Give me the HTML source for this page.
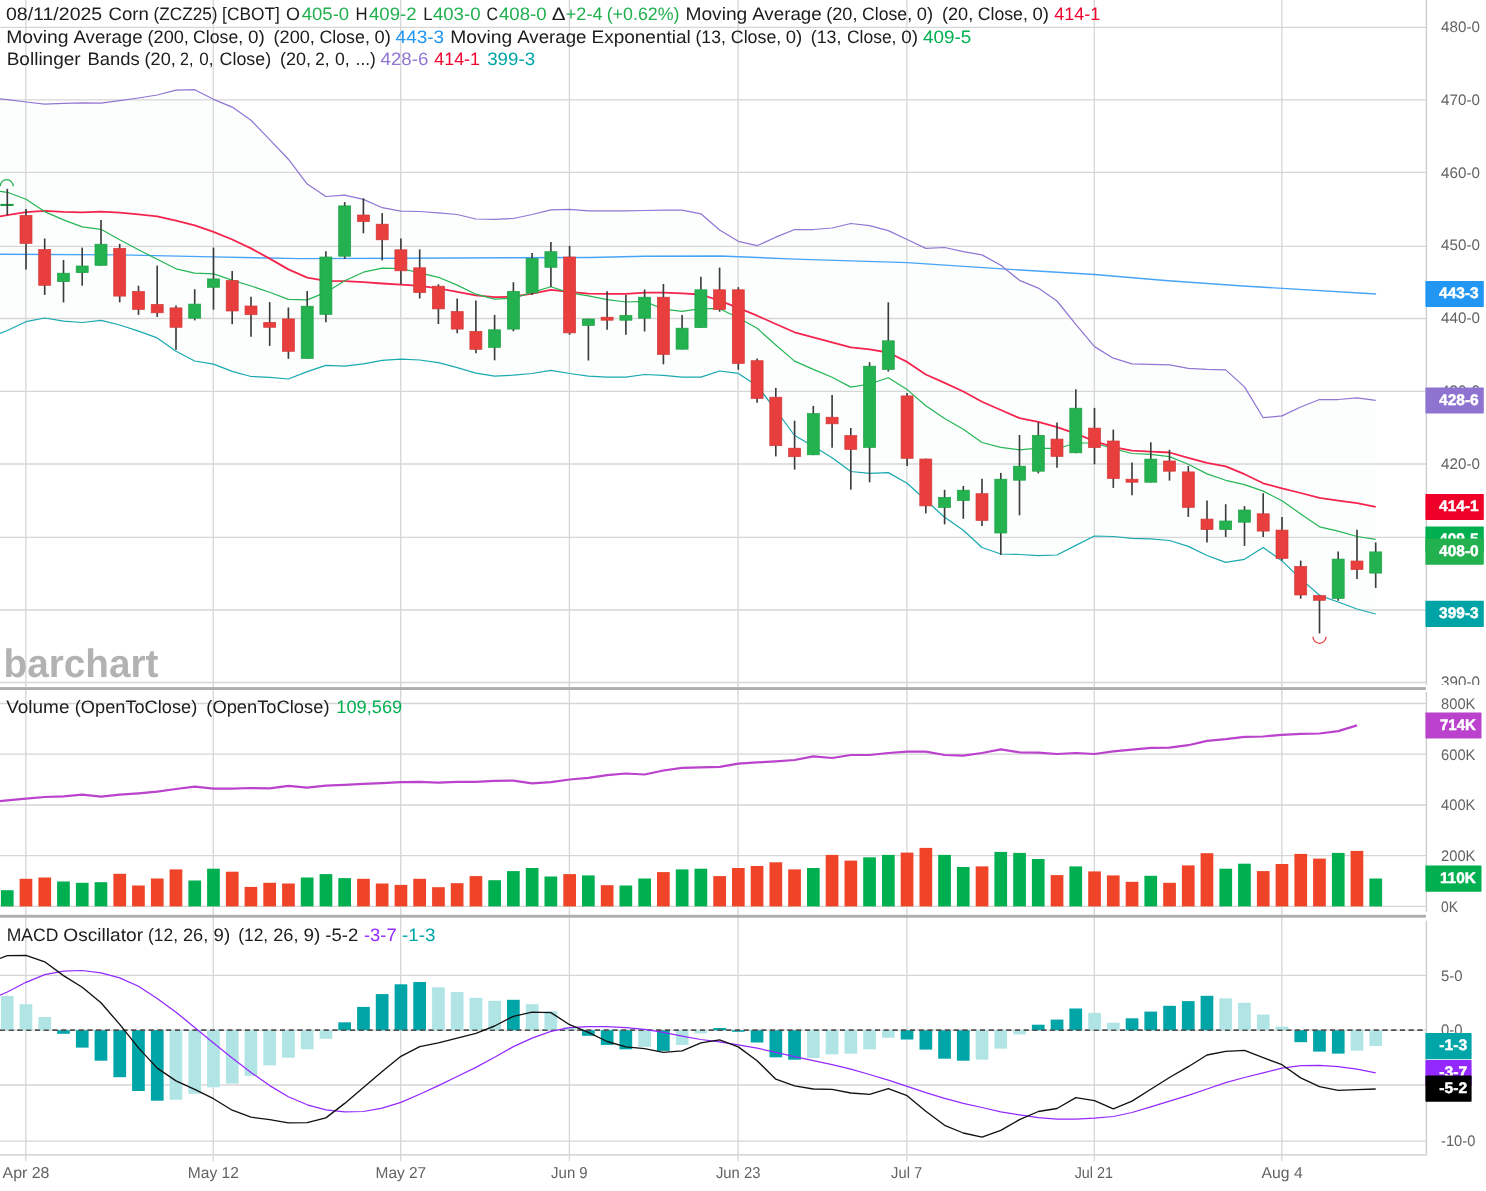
<!DOCTYPE html>
<html lang="en"><head><meta charset="utf-8"><title>Corn (ZCZ25) chart</title>
<style>html,body{margin:0;padding:0;background:#fff;overflow:hidden}svg{display:block;will-change:transform}</style>
</head><body>
<svg width="1486" height="1191" viewBox="0 0 1486 1191" role="img" aria-label="Corn ZCZ25 daily candlestick chart">
<rect width="1486" height="1191" fill="#fff"/>
<polygon points="0,98.8 7.3,99.6 26,102 44.7,104.2 63.5,103.4 82.2,102.8 101,103.1 119.7,100.7 138.5,98 157.2,95 176,90.2 194.7,89.7 213.5,99.3 232.2,107.1 251,120.3 269.7,139.6 288.4,159.2 307.2,184.1 325.9,196.5 344.7,195.1 363.4,199.4 382.2,207.7 400.9,211.2 419.7,211.5 438.4,212.9 457.2,214.5 475.9,219 494.6,219.3 513.4,218.5 532.1,214.5 550.9,209.9 569.6,209.4 588.4,210.8 607.1,210.8 625.9,210.8 644.6,210.5 663.4,210.2 682.1,210.2 700.9,213.8 719.6,230 738.3,241.3 757.1,245.7 775.8,237.2 794.6,229.5 813.3,229.5 832.1,228 850.8,223.5 869.6,225.6 888.3,230.6 907.1,239.5 925.8,248.4 944.6,247.5 963.3,251.7 982,254.9 1000.8,265.3 1019.5,280.3 1038.3,288.1 1057,301 1075.8,324.3 1094.5,346.6 1113.3,358.2 1132,363.8 1150.8,364.3 1169.5,364.8 1188.3,368.3 1207,369.4 1225.7,369.9 1244.5,386.9 1263.2,417.7 1282,415.9 1300.7,407 1319.5,399.5 1338.2,399.5 1357,397.9 1375.7,400.4 1375.7,614 1357,609 1338.2,602 1319.5,595.3 1300.7,578.9 1282,560.9 1263.2,547.5 1244.5,559.3 1225.7,562.3 1207,555.5 1188.3,546.4 1169.5,540.5 1150.8,538.9 1132,538.4 1113.3,536.5 1094.5,536 1075.8,545.4 1057,555 1038.3,555.6 1019.5,554.5 1000.8,554 982,547.5 963.3,530.3 944.6,517.2 925.8,500.3 907.1,483.3 888.3,472.6 869.6,473.4 850.8,471.5 832.1,457.8 813.3,446.2 794.6,435.5 775.8,410 757.1,385.8 738.3,373.4 719.6,371 700.9,377.2 682.1,377.2 663.4,375.3 644.6,374.5 625.9,377.2 607.1,377.2 588.4,376.1 569.6,373.5 550.9,370.3 532.1,373.5 513.4,375.1 494.6,376.2 475.9,373.2 457.2,367.6 438.4,362.7 419.7,360 400.9,359.2 382.2,360.3 363.4,363.8 344.7,366.2 325.9,365.4 307.2,371.6 288.4,379 269.7,377.3 251,376.5 232.2,371.4 213.5,364.2 194.7,361 176,351.3 157.2,337.9 138.5,331.1 119.7,325 101,320.4 82.2,322.5 63.5,321.2 44.7,318 26,321.7 7.3,330.5 0,333.3" fill="#fcfefd"/>
<g stroke="#d6d6d6" stroke-width="1.3" fill="none">
<path d="M0 27.4 H1426.4"/>
<path d="M0 99.9 H1426.4"/>
<path d="M0 172.4 H1426.4"/>
<path d="M0 246.3 H1426.4"/>
<path d="M0 318.5 H1426.4"/>
<path d="M0 391.4 H1426.4"/>
<path d="M0 464 H1426.4"/>
<path d="M0 537.4 H1426.4"/>
<path d="M0 610 H1426.4"/>
<path d="M0 682.5 H1426.4"/>
<path d="M0 703.5 H1426.4"/>
<path d="M0 754.2 H1426.4"/>
<path d="M0 805 H1426.4"/>
<path d="M0 855.7 H1426.4"/>
<path d="M0 906.4 H1426.4"/>
<path d="M0 975.3 H1426.4"/>
<path d="M0 1030.2 H1426.4"/>
<path d="M0 1085 H1426.4"/>
<path d="M0 1141.2 H1426.4"/>
<path d="M25.8 0 V1154.6"/>
<path d="M213.3 0 V1154.6"/>
<path d="M400.7 0 V1154.6"/>
<path d="M569.4 0 V1154.6"/>
<path d="M738.1 0 V1154.6"/>
<path d="M906.9 0 V1154.6"/>
<path d="M1094.3 0 V1154.6"/>
<path d="M1281.8 0 V1154.6"/>
</g>
<path d="M0 1030.2 H1426.4" stroke="#505050" stroke-width="1.4" stroke-dasharray="5 3.75" fill="none"/>
<polyline points="0,254.2 120,254.9 213,256.9 300,258.6 400,258.2 590,257.4 645,256.3 720,256 795,259.1 907,262.6 1010,269.4 1094.5,274.5 1165,280.5 1243,286 1376.1,294" fill="none" stroke="#48a4f6" stroke-width="1.45" stroke-linejoin="round" />
<polyline points="0,98.8 7.3,99.6 26,102 44.7,104.2 63.5,103.4 82.2,102.8 101,103.1 119.7,100.7 138.5,98 157.2,95 176,90.2 194.7,89.7 213.5,99.3 232.2,107.1 251,120.3 269.7,139.6 288.4,159.2 307.2,184.1 325.9,196.5 344.7,195.1 363.4,199.4 382.2,207.7 400.9,211.2 419.7,211.5 438.4,212.9 457.2,214.5 475.9,219 494.6,219.3 513.4,218.5 532.1,214.5 550.9,209.9 569.6,209.4 588.4,210.8 607.1,210.8 625.9,210.8 644.6,210.5 663.4,210.2 682.1,210.2 700.9,213.8 719.6,230 738.3,241.3 757.1,245.7 775.8,237.2 794.6,229.5 813.3,229.5 832.1,228 850.8,223.5 869.6,225.6 888.3,230.6 907.1,239.5 925.8,248.4 944.6,247.5 963.3,251.7 982,254.9 1000.8,265.3 1019.5,280.3 1038.3,288.1 1057,301 1075.8,324.3 1094.5,346.6 1113.3,358.2 1132,363.8 1150.8,364.3 1169.5,364.8 1188.3,368.3 1207,369.4 1225.7,369.9 1244.5,386.9 1263.2,417.7 1282,415.9 1300.7,407 1319.5,399.5 1338.2,399.5 1357,397.9 1375.7,400.4" fill="none" stroke="#9176d3" stroke-width="1.25" stroke-linejoin="round" />
<polyline points="0,333.3 7.3,330.5 26,321.7 44.7,318 63.5,321.2 82.2,322.5 101,320.4 119.7,325 138.5,331.1 157.2,337.9 176,351.3 194.7,361 213.5,364.2 232.2,371.4 251,376.5 269.7,377.3 288.4,379 307.2,371.6 325.9,365.4 344.7,366.2 363.4,363.8 382.2,360.3 400.9,359.2 419.7,360 438.4,362.7 457.2,367.6 475.9,373.2 494.6,376.2 513.4,375.1 532.1,373.5 550.9,370.3 569.6,373.5 588.4,376.1 607.1,377.2 625.9,377.2 644.6,374.5 663.4,375.3 682.1,377.2 700.9,377.2 719.6,371 738.3,373.4 757.1,385.8 775.8,410 794.6,435.5 813.3,446.2 832.1,457.8 850.8,471.5 869.6,473.4 888.3,472.6 907.1,483.3 925.8,500.3 944.6,517.2 963.3,530.3 982,547.5 1000.8,554 1019.5,554.5 1038.3,555.6 1057,555 1075.8,545.4 1094.5,536 1113.3,536.5 1132,538.4 1150.8,538.9 1169.5,540.5 1188.3,546.4 1207,555.5 1225.7,562.3 1244.5,559.3 1263.2,547.5 1282,560.9 1300.7,578.9 1319.5,595.3 1338.2,602 1357,609 1375.7,614" fill="none" stroke="#1aa9b0" stroke-width="1.25" stroke-linejoin="round" />
<polyline points="0,216.4 7.3,215.2 26,212.2 44.7,210.8 63.5,211.9 82.2,212.4 101,211.6 119.7,212.7 138.5,214.3 157.2,216.4 176,220.7 194.7,225.3 213.5,231.8 232.2,239.5 251,248.4 269.7,258.6 288.4,269.4 307.2,277.6 325.9,280.8 344.7,281.1 363.4,282.2 382.2,283.5 400.9,284.6 419.7,285.9 438.4,288.3 457.2,291.8 475.9,295.3 494.6,297.2 513.4,296.7 532.1,293.7 550.9,289.9 569.6,291.8 588.4,293.7 607.1,293.9 625.9,293.9 644.6,292.6 663.4,292.6 682.1,293.4 700.9,294.5 719.6,300.6 738.3,307.9 757.1,315.7 775.8,324 794.6,332.3 813.3,337.4 832.1,342.3 850.8,347.4 869.6,349.3 888.3,352.5 907.1,361.9 925.8,374.5 944.6,382.9 963.3,391.5 982,401.7 1000.8,410 1019.5,418.1 1038.3,421.8 1057,427.2 1075.8,433.6 1094.5,441.2 1113.3,447.1 1132,450.6 1150.8,451.6 1169.5,452.5 1188.3,457.8 1207,462.9 1225.7,466.4 1244.5,474.2 1263.2,483.3 1282,488.4 1300.7,493 1319.5,497.8 1338.2,500.7 1357,503.2 1375.7,506.9" fill="none" stroke="#f4244c" stroke-width="1.8" stroke-linejoin="round" />
<polyline points="0,191.4 7.3,192.3 26,199.3 44.7,211.6 63.5,219.9 82.2,226.9 101,229.3 119.7,239.8 138.5,249.8 157.2,259.2 176,268.8 194.7,273.1 213.5,273.9 232.2,280.1 251,286 269.7,292.2 288.4,299.4 307.2,299.9 325.9,292.4 344.7,280.8 363.4,272.2 382.2,268.2 400.9,268.5 419.7,272.8 438.4,277.3 457.2,285.1 475.9,294.2 494.6,299.1 513.4,298.3 532.1,292.4 550.9,286.7 569.6,292.9 588.4,295.8 607.1,299.6 625.9,302 644.6,301.4 663.4,309.2 682.1,311.4 700.9,308.7 719.6,308.7 738.3,317.8 757.1,328.3 775.8,345 794.6,361.1 813.3,369.4 832.1,377.2 850.8,387.1 869.6,384 888.3,377.8 907.1,389.6 925.8,405.7 944.6,418.6 963.3,429.3 982,442.5 1000.8,447.3 1019.5,449.8 1038.3,448.1 1057,448.7 1075.8,443 1094.5,443 1113.3,448.7 1132,453.5 1150.8,454.4 1169.5,456.6 1188.3,464.2 1207,473.9 1225.7,480.3 1244.5,484.6 1263.2,491.1 1282,500.7 1300.7,513.9 1319.5,526.8 1338.2,531.1 1357,536.5 1375.7,539.3" fill="none" stroke="#25b555" stroke-width="1.2" stroke-linejoin="round" />
<rect x="0.4" y="203.9" width="13.2" height="2.1" fill="#1a9a42"/>
<g stroke="#3c3c3c" stroke-width="1.65">
<path d="M7.3 188.8 V215.1"/>
<path d="M26 208.9 V269.6"/>
<path d="M44.7 238.5 V294.9"/>
<path d="M63.5 260 V302.4"/>
<path d="M82.2 247.6 V285.7"/>
<path d="M101 219.9 V265.6"/>
<path d="M119.7 243.8 V302.4"/>
<path d="M138.5 285.7 V314.8"/>
<path d="M157.2 265.6 V316.9"/>
<path d="M176 305.6 V349.7"/>
<path d="M194.7 289.2 V320.4"/>
<path d="M213.5 247.6 V309.7"/>
<path d="M232.2 271 V324.2"/>
<path d="M251 296.8 V336.8"/>
<path d="M269.7 302.1 V345.9"/>
<path d="M288.4 307.5 V358.8"/>
<path d="M307.2 291 V358.7"/>
<path d="M325.9 251.3 V322.2"/>
<path d="M344.7 202.1 V258.8"/>
<path d="M363.4 198.3 V233.3"/>
<path d="M382.2 213.1 V260.4"/>
<path d="M400.9 238.4 V284.3"/>
<path d="M419.7 249.4 V298.5"/>
<path d="M438.4 284.3 V324"/>
<path d="M457.2 298.5 V333.2"/>
<path d="M475.9 300.4 V353.3"/>
<path d="M494.6 314.9 V360.3"/>
<path d="M513.4 282.2 V331.3"/>
<path d="M532.1 252.9 V295"/>
<path d="M550.9 242.1 V287"/>
<path d="M569.6 245.9 V334.8"/>
<path d="M588.4 318.6 V360.5"/>
<path d="M607.1 291.2 V329.7"/>
<path d="M625.9 295 V334.8"/>
<path d="M644.6 289.4 V331.5"/>
<path d="M663.4 284 V364.3"/>
<path d="M682.1 315.1 V349.5"/>
<path d="M700.9 276.7 V327.8"/>
<path d="M719.6 267.6 V311.7"/>
<path d="M738.3 287.2 V369.7"/>
<path d="M757.1 358.4 V402.7"/>
<path d="M775.8 387.9 V456.4"/>
<path d="M794.6 420.7 V469.6"/>
<path d="M813.3 405.9 V455.1"/>
<path d="M832.1 394.9 V447.8"/>
<path d="M850.8 428 V489.7"/>
<path d="M869.6 362.2 V482.3"/>
<path d="M888.3 302.3 V371.6"/>
<path d="M907.1 393.1 V465.9"/>
<path d="M925.8 458.6 V513.4"/>
<path d="M944.6 489.8 V524.4"/>
<path d="M963.3 486 V518.8"/>
<path d="M982 478.8 V526"/>
<path d="M1000.8 472.9 V555"/>
<path d="M1019.5 435 V515.3"/>
<path d="M1038.3 422.4 V473.4"/>
<path d="M1057 422.4 V467.8"/>
<path d="M1075.8 389.3 V453.2"/>
<path d="M1094.5 407.9 V464.3"/>
<path d="M1113.3 429.6 V487.9"/>
<path d="M1132 462.4 V495.2"/>
<path d="M1150.8 442.3 V482.5"/>
<path d="M1169.5 449.8 V480.6"/>
<path d="M1188.3 466.1 V516.9"/>
<path d="M1207 500.5 V542.4"/>
<path d="M1225.7 504.2 V537"/>
<path d="M1244.5 506.1 V545.9"/>
<path d="M1263.2 493.2 V537"/>
<path d="M1282 516.9 V560.6"/>
<path d="M1300.7 560.6 V598.8"/>
<path d="M1319.5 595.3 V633.4"/>
<path d="M1338.2 551.5 V600.7"/>
<path d="M1357 529.8 V578.9"/>
<path d="M1375.7 542.4 V587.9"/>
</g>
<rect x="20" y="215.4" width="12" height="28" fill="#e93e3e" stroke="#d03a3a" stroke-width="0.7"/>
<rect x="38.7" y="249.5" width="12" height="35.8" fill="#e93e3e" stroke="#d03a3a" stroke-width="0.7"/>
<rect x="57.5" y="273.2" width="12" height="8.4" fill="#24b250" stroke="#1c9f45" stroke-width="0.7"/>
<rect x="76.2" y="266" width="12" height="6.6" fill="#24b250" stroke="#1c9f45" stroke-width="0.7"/>
<rect x="95" y="244.2" width="12" height="21.1" fill="#24b250" stroke="#1c9f45" stroke-width="0.7"/>
<rect x="113.7" y="248.3" width="12" height="47.8" fill="#e93e3e" stroke="#d03a3a" stroke-width="0.7"/>
<rect x="132.5" y="291.5" width="12" height="17.9" fill="#e93e3e" stroke="#d03a3a" stroke-width="0.7"/>
<rect x="151.2" y="304.4" width="12" height="8.4" fill="#e93e3e" stroke="#d03a3a" stroke-width="0.7"/>
<rect x="170" y="307.9" width="12" height="19.4" fill="#e93e3e" stroke="#d03a3a" stroke-width="0.7"/>
<rect x="188.7" y="304.1" width="12" height="14.1" fill="#24b250" stroke="#1c9f45" stroke-width="0.7"/>
<rect x="207.5" y="278.9" width="12" height="8.4" fill="#24b250" stroke="#1c9f45" stroke-width="0.7"/>
<rect x="226.2" y="280.5" width="12" height="30.5" fill="#e93e3e" stroke="#d03a3a" stroke-width="0.7"/>
<rect x="245" y="306" width="12" height="8.7" fill="#e93e3e" stroke="#d03a3a" stroke-width="0.7"/>
<rect x="263.7" y="322.4" width="12" height="4.9" fill="#e93e3e" stroke="#d03a3a" stroke-width="0.7"/>
<rect x="282.4" y="318.9" width="12" height="32.4" fill="#e93e3e" stroke="#d03a3a" stroke-width="0.7"/>
<rect x="301.2" y="306.2" width="12" height="52.2" fill="#24b250" stroke="#1c9f45" stroke-width="0.7"/>
<rect x="319.9" y="257" width="12" height="57.4" fill="#24b250" stroke="#1c9f45" stroke-width="0.7"/>
<rect x="338.7" y="205.9" width="12" height="50.3" fill="#24b250" stroke="#1c9f45" stroke-width="0.7"/>
<rect x="357.4" y="215" width="12" height="6.6" fill="#e93e3e" stroke="#d03a3a" stroke-width="0.7"/>
<rect x="376.2" y="224.2" width="12" height="15.6" fill="#e93e3e" stroke="#d03a3a" stroke-width="0.7"/>
<rect x="394.9" y="249.8" width="12" height="21" fill="#e93e3e" stroke="#d03a3a" stroke-width="0.7"/>
<rect x="413.7" y="267.8" width="12" height="24.8" fill="#e93e3e" stroke="#d03a3a" stroke-width="0.7"/>
<rect x="432.4" y="286.2" width="12" height="22.7" fill="#e93e3e" stroke="#d03a3a" stroke-width="0.7"/>
<rect x="451.2" y="311.6" width="12" height="17.5" fill="#e93e3e" stroke="#d03a3a" stroke-width="0.7"/>
<rect x="469.9" y="331.4" width="12" height="17.9" fill="#e93e3e" stroke="#d03a3a" stroke-width="0.7"/>
<rect x="488.6" y="329.8" width="12" height="17.6" fill="#24b250" stroke="#1c9f45" stroke-width="0.7"/>
<rect x="507.4" y="291.4" width="12" height="37.7" fill="#24b250" stroke="#1c9f45" stroke-width="0.7"/>
<rect x="526.1" y="258.6" width="12" height="34.3" fill="#24b250" stroke="#1c9f45" stroke-width="0.7"/>
<rect x="544.9" y="251.7" width="12" height="15.6" fill="#24b250" stroke="#1c9f45" stroke-width="0.7"/>
<rect x="563.6" y="257" width="12" height="75.9" fill="#e93e3e" stroke="#d03a3a" stroke-width="0.7"/>
<rect x="582.4" y="319" width="12" height="6.4" fill="#24b250" stroke="#1c9f45" stroke-width="0.7"/>
<rect x="601.1" y="317.2" width="12" height="3" fill="#e93e3e" stroke="#d03a3a" stroke-width="0.7"/>
<rect x="619.9" y="315.5" width="12" height="4.7" fill="#24b250" stroke="#1c9f45" stroke-width="0.7"/>
<rect x="638.6" y="297.2" width="12" height="21" fill="#24b250" stroke="#1c9f45" stroke-width="0.7"/>
<rect x="657.4" y="297.2" width="12" height="57.3" fill="#e93e3e" stroke="#d03a3a" stroke-width="0.7"/>
<rect x="676.1" y="328.2" width="12" height="21" fill="#24b250" stroke="#1c9f45" stroke-width="0.7"/>
<rect x="694.9" y="289.8" width="12" height="37.7" fill="#24b250" stroke="#1c9f45" stroke-width="0.7"/>
<rect x="713.6" y="289.8" width="12" height="19.7" fill="#e93e3e" stroke="#d03a3a" stroke-width="0.7"/>
<rect x="732.3" y="289.8" width="12" height="73.7" fill="#e93e3e" stroke="#d03a3a" stroke-width="0.7"/>
<rect x="751.1" y="360.7" width="12" height="37.7" fill="#e93e3e" stroke="#d03a3a" stroke-width="0.7"/>
<rect x="769.8" y="397.2" width="12" height="48.5" fill="#e93e3e" stroke="#d03a3a" stroke-width="0.7"/>
<rect x="788.6" y="448.2" width="12" height="8.5" fill="#e93e3e" stroke="#d03a3a" stroke-width="0.7"/>
<rect x="807.3" y="413.6" width="12" height="41.2" fill="#24b250" stroke="#1c9f45" stroke-width="0.7"/>
<rect x="826.1" y="417.2" width="12" height="6.6" fill="#e93e3e" stroke="#d03a3a" stroke-width="0.7"/>
<rect x="844.8" y="435.6" width="12" height="13.8" fill="#e93e3e" stroke="#d03a3a" stroke-width="0.7"/>
<rect x="863.6" y="366.2" width="12" height="81.2" fill="#24b250" stroke="#1c9f45" stroke-width="0.7"/>
<rect x="882.3" y="340.8" width="12" height="28.6" fill="#24b250" stroke="#1c9f45" stroke-width="0.7"/>
<rect x="901.1" y="395.9" width="12" height="62.4" fill="#e93e3e" stroke="#d03a3a" stroke-width="0.7"/>
<rect x="919.8" y="459" width="12" height="46.9" fill="#e93e3e" stroke="#d03a3a" stroke-width="0.7"/>
<rect x="938.6" y="497.4" width="12" height="10.1" fill="#24b250" stroke="#1c9f45" stroke-width="0.7"/>
<rect x="957.3" y="490.2" width="12" height="10.3" fill="#24b250" stroke="#1c9f45" stroke-width="0.7"/>
<rect x="976" y="493.7" width="12" height="26.7" fill="#e93e3e" stroke="#d03a3a" stroke-width="0.7"/>
<rect x="994.8" y="479.2" width="12" height="53.8" fill="#24b250" stroke="#1c9f45" stroke-width="0.7"/>
<rect x="1013.5" y="466.2" width="12" height="14" fill="#24b250" stroke="#1c9f45" stroke-width="0.7"/>
<rect x="1032.3" y="435.4" width="12" height="35.8" fill="#24b250" stroke="#1c9f45" stroke-width="0.7"/>
<rect x="1051" y="439.1" width="12" height="17.3" fill="#e93e3e" stroke="#d03a3a" stroke-width="0.7"/>
<rect x="1069.8" y="408.2" width="12" height="44.6" fill="#24b250" stroke="#1c9f45" stroke-width="0.7"/>
<rect x="1088.5" y="428.1" width="12" height="19.5" fill="#e93e3e" stroke="#d03a3a" stroke-width="0.7"/>
<rect x="1107.3" y="441" width="12" height="37.5" fill="#e93e3e" stroke="#d03a3a" stroke-width="0.7"/>
<rect x="1126" y="479.2" width="12" height="3" fill="#e93e3e" stroke="#d03a3a" stroke-width="0.7"/>
<rect x="1144.8" y="459.1" width="12" height="23.1" fill="#24b250" stroke="#1c9f45" stroke-width="0.7"/>
<rect x="1163.5" y="461" width="12" height="10.2" fill="#e93e3e" stroke="#d03a3a" stroke-width="0.7"/>
<rect x="1182.3" y="471.9" width="12" height="35.5" fill="#e93e3e" stroke="#d03a3a" stroke-width="0.7"/>
<rect x="1201" y="519.1" width="12" height="10.4" fill="#e93e3e" stroke="#d03a3a" stroke-width="0.7"/>
<rect x="1219.7" y="521" width="12" height="8.5" fill="#24b250" stroke="#1c9f45" stroke-width="0.7"/>
<rect x="1238.5" y="510" width="12" height="12.2" fill="#24b250" stroke="#1c9f45" stroke-width="0.7"/>
<rect x="1257.2" y="513.8" width="12" height="17.3" fill="#e93e3e" stroke="#d03a3a" stroke-width="0.7"/>
<rect x="1276" y="530.1" width="12" height="28.3" fill="#e93e3e" stroke="#d03a3a" stroke-width="0.7"/>
<rect x="1294.7" y="566.4" width="12" height="28.6" fill="#e93e3e" stroke="#d03a3a" stroke-width="0.7"/>
<rect x="1313.5" y="595.6" width="12" height="4.7" fill="#e93e3e" stroke="#d03a3a" stroke-width="0.7"/>
<rect x="1332.2" y="559.1" width="12" height="39.3" fill="#24b250" stroke="#1c9f45" stroke-width="0.7"/>
<rect x="1351" y="561" width="12" height="8.5" fill="#e93e3e" stroke="#d03a3a" stroke-width="0.7"/>
<rect x="1369.7" y="551.9" width="12" height="21.2" fill="#24b250" stroke="#1c9f45" stroke-width="0.7"/>
<path d="M0.2 186.2 A6.5 6.5 0 0 1 13.2 186.2" fill="none" stroke="#24b250" stroke-width="1.3"/>
<path d="M1313 636.8 A6.5 6.5 0 0 0 1326 636.8" fill="none" stroke="#e93e3e" stroke-width="1.3"/>
<rect x="0.9" y="890.2" width="12.7" height="16.2" fill="#00b050"/>
<rect x="19.6" y="878.8" width="12.7" height="27.6" fill="#ef4428"/>
<rect x="38.4" y="877.5" width="12.7" height="28.9" fill="#ef4428"/>
<rect x="57.1" y="881.5" width="12.7" height="24.9" fill="#00b050"/>
<rect x="75.9" y="882.8" width="12.7" height="23.6" fill="#00b050"/>
<rect x="94.6" y="882.2" width="12.7" height="24.2" fill="#00b050"/>
<rect x="113.4" y="873.8" width="12.7" height="32.6" fill="#ef4428"/>
<rect x="132.1" y="885.5" width="12.7" height="20.9" fill="#ef4428"/>
<rect x="150.9" y="878.5" width="12.7" height="27.9" fill="#ef4428"/>
<rect x="169.6" y="869.4" width="12.7" height="37" fill="#ef4428"/>
<rect x="188.4" y="880.5" width="12.7" height="25.9" fill="#00b050"/>
<rect x="207.1" y="868.7" width="12.7" height="37.7" fill="#00b050"/>
<rect x="225.9" y="871.7" width="12.7" height="34.7" fill="#ef4428"/>
<rect x="244.6" y="886.9" width="12.7" height="19.5" fill="#ef4428"/>
<rect x="263.3" y="882.8" width="12.7" height="23.6" fill="#ef4428"/>
<rect x="282.1" y="883.5" width="12.7" height="22.9" fill="#ef4428"/>
<rect x="300.8" y="877.5" width="12.7" height="28.9" fill="#00b050"/>
<rect x="319.6" y="874.1" width="12.7" height="32.3" fill="#00b050"/>
<rect x="338.3" y="878.1" width="12.7" height="28.3" fill="#00b050"/>
<rect x="357.1" y="878.8" width="12.7" height="27.6" fill="#ef4428"/>
<rect x="375.8" y="883.5" width="12.7" height="22.9" fill="#ef4428"/>
<rect x="394.6" y="884.9" width="12.7" height="21.5" fill="#ef4428"/>
<rect x="413.3" y="878.8" width="12.7" height="27.6" fill="#ef4428"/>
<rect x="432.1" y="887.2" width="12.7" height="19.2" fill="#ef4428"/>
<rect x="450.8" y="883.2" width="12.7" height="23.2" fill="#ef4428"/>
<rect x="469.6" y="876.1" width="12.7" height="30.3" fill="#ef4428"/>
<rect x="488.3" y="880.2" width="12.7" height="26.2" fill="#00b050"/>
<rect x="507" y="871.1" width="12.7" height="35.3" fill="#00b050"/>
<rect x="525.8" y="868" width="12.7" height="38.4" fill="#00b050"/>
<rect x="544.5" y="876.5" width="12.7" height="29.9" fill="#00b050"/>
<rect x="563.3" y="874.1" width="12.7" height="32.3" fill="#ef4428"/>
<rect x="582" y="875.4" width="12.7" height="31" fill="#00b050"/>
<rect x="600.8" y="885.2" width="12.7" height="21.2" fill="#ef4428"/>
<rect x="619.5" y="885.5" width="12.7" height="20.9" fill="#00b050"/>
<rect x="638.3" y="878.5" width="12.7" height="27.9" fill="#00b050"/>
<rect x="657" y="872.1" width="12.7" height="34.3" fill="#ef4428"/>
<rect x="675.8" y="869.4" width="12.7" height="37" fill="#00b050"/>
<rect x="694.5" y="868.7" width="12.7" height="37.7" fill="#00b050"/>
<rect x="713.3" y="876.1" width="12.7" height="30.3" fill="#ef4428"/>
<rect x="732" y="868" width="12.7" height="38.4" fill="#ef4428"/>
<rect x="750.7" y="866" width="12.7" height="40.4" fill="#ef4428"/>
<rect x="769.5" y="862.3" width="12.7" height="44.1" fill="#ef4428"/>
<rect x="788.2" y="869.4" width="12.7" height="37" fill="#ef4428"/>
<rect x="807" y="868" width="12.7" height="38.4" fill="#00b050"/>
<rect x="825.7" y="854.9" width="12.7" height="51.5" fill="#ef4428"/>
<rect x="844.5" y="860.6" width="12.7" height="45.8" fill="#ef4428"/>
<rect x="863.2" y="857.3" width="12.7" height="49.1" fill="#00b050"/>
<rect x="882" y="854.9" width="12.7" height="51.5" fill="#00b050"/>
<rect x="900.7" y="852.6" width="12.7" height="53.8" fill="#ef4428"/>
<rect x="919.5" y="847.9" width="12.7" height="58.5" fill="#ef4428"/>
<rect x="938.2" y="854.9" width="12.7" height="51.5" fill="#00b050"/>
<rect x="956.9" y="867" width="12.7" height="39.4" fill="#00b050"/>
<rect x="975.7" y="866.4" width="12.7" height="40" fill="#ef4428"/>
<rect x="994.4" y="851.9" width="12.7" height="54.5" fill="#00b050"/>
<rect x="1013.2" y="852.9" width="12.7" height="53.5" fill="#00b050"/>
<rect x="1031.9" y="859" width="12.7" height="47.4" fill="#00b050"/>
<rect x="1050.7" y="875.1" width="12.7" height="31.3" fill="#ef4428"/>
<rect x="1069.4" y="866.4" width="12.7" height="40" fill="#00b050"/>
<rect x="1088.2" y="871.4" width="12.7" height="35" fill="#ef4428"/>
<rect x="1106.9" y="875.4" width="12.7" height="31" fill="#ef4428"/>
<rect x="1125.7" y="881.8" width="12.7" height="24.6" fill="#ef4428"/>
<rect x="1144.4" y="875.8" width="12.7" height="30.6" fill="#00b050"/>
<rect x="1163.2" y="882.8" width="12.7" height="23.6" fill="#ef4428"/>
<rect x="1181.9" y="865.4" width="12.7" height="41" fill="#ef4428"/>
<rect x="1200.6" y="853.2" width="12.7" height="53.2" fill="#ef4428"/>
<rect x="1219.4" y="868.7" width="12.7" height="37.7" fill="#00b050"/>
<rect x="1238.1" y="863.7" width="12.7" height="42.7" fill="#00b050"/>
<rect x="1256.9" y="871.1" width="12.7" height="35.3" fill="#ef4428"/>
<rect x="1275.6" y="864" width="12.7" height="42.4" fill="#ef4428"/>
<rect x="1294.4" y="853.9" width="12.7" height="52.5" fill="#ef4428"/>
<rect x="1313.1" y="858.6" width="12.7" height="47.8" fill="#ef4428"/>
<rect x="1331.9" y="852.9" width="12.7" height="53.5" fill="#00b050"/>
<rect x="1350.6" y="850.9" width="12.7" height="55.5" fill="#ef4428"/>
<rect x="1369.4" y="878.5" width="12.7" height="27.9" fill="#00b050"/>
<polyline points="0,801.1 7.3,800.4 26,798.7 44.7,797 63.5,796.4 82.2,794.7 101,796.7 119.7,794.7 138.5,793.3 157.2,791.7 176,789 194.7,786.6 213.5,788.6 232.2,788.6 251,788 269.7,788.3 288.4,785.9 307.2,787.6 325.9,785.6 344.7,784.9 363.4,783.9 382.2,783.2 400.9,782.2 419.7,781.9 438.4,782.6 457.2,781.9 475.9,781.9 494.6,780.9 513.4,780.6 532.1,783.3 550.9,782.2 569.6,779.5 588.4,777.9 607.1,775.2 625.9,773.5 644.6,774.5 663.4,770.5 682.1,767.8 700.9,767.4 719.6,766.8 738.3,763.7 757.1,762.4 775.8,761.4 794.6,760 813.3,756.3 832.1,758 850.8,755 869.6,755 888.3,753 907.1,751.6 925.8,751.6 944.6,755 963.3,755.7 982,753 1000.8,749.3 1019.5,752.3 1038.3,752.6 1057,754 1075.8,753 1094.5,754 1113.3,751.3 1132,749.6 1150.8,747.9 1169.5,747.6 1188.3,745.2 1207,740.9 1225.7,739.2 1244.5,736.8 1263.2,736.5 1282,734.8 1300.7,733.8 1319.5,733.5 1338.2,731.1 1357,725.4" fill="none" stroke="#ba42cc" stroke-width="2.2" stroke-linejoin="round" />
<rect x="0.9" y="996.1" width="12.7" height="34.1" fill="#b0e4e5"/>
<rect x="19.6" y="1004.2" width="12.7" height="26" fill="#b0e4e5"/>
<rect x="38.4" y="1017" width="12.7" height="13.2" fill="#b0e4e5"/>
<rect x="57.1" y="1030.2" width="12.7" height="3.6" fill="#00a5a8"/>
<rect x="75.9" y="1030.2" width="12.7" height="17.4" fill="#00a5a8"/>
<rect x="94.6" y="1030.2" width="12.7" height="30.5" fill="#00a5a8"/>
<rect x="113.4" y="1030.2" width="12.7" height="47" fill="#00a5a8"/>
<rect x="132.1" y="1030.2" width="12.7" height="60.8" fill="#00a5a8"/>
<rect x="150.9" y="1030.2" width="12.7" height="70.5" fill="#00a5a8"/>
<rect x="169.6" y="1030.2" width="12.7" height="69.5" fill="#b0e4e5"/>
<rect x="188.4" y="1030.2" width="12.7" height="63.5" fill="#b0e4e5"/>
<rect x="207.1" y="1030.2" width="12.7" height="57.1" fill="#b0e4e5"/>
<rect x="225.9" y="1030.2" width="12.7" height="53.4" fill="#b0e4e5"/>
<rect x="244.6" y="1030.2" width="12.7" height="45.6" fill="#b0e4e5"/>
<rect x="263.3" y="1030.2" width="12.7" height="35.2" fill="#b0e4e5"/>
<rect x="282.1" y="1030.2" width="12.7" height="27.5" fill="#b0e4e5"/>
<rect x="300.8" y="1030.2" width="12.7" height="19.1" fill="#b0e4e5"/>
<rect x="319.6" y="1030.2" width="12.7" height="8.6" fill="#b0e4e5"/>
<rect x="338.3" y="1022.3" width="12.7" height="7.9" fill="#00a5a8"/>
<rect x="357.1" y="1006.9" width="12.7" height="23.3" fill="#00a5a8"/>
<rect x="375.8" y="994.1" width="12.7" height="36.1" fill="#00a5a8"/>
<rect x="394.6" y="984.3" width="12.7" height="45.9" fill="#00a5a8"/>
<rect x="413.3" y="982" width="12.7" height="48.2" fill="#00a5a8"/>
<rect x="432.1" y="987.3" width="12.7" height="42.9" fill="#b0e4e5"/>
<rect x="450.8" y="992.1" width="12.7" height="38.1" fill="#b0e4e5"/>
<rect x="469.6" y="997.8" width="12.7" height="32.4" fill="#b0e4e5"/>
<rect x="488.3" y="1000.8" width="12.7" height="29.4" fill="#b0e4e5"/>
<rect x="507" y="999.8" width="12.7" height="30.4" fill="#00a5a8"/>
<rect x="525.8" y="1004.2" width="12.7" height="26" fill="#b0e4e5"/>
<rect x="544.5" y="1011.2" width="12.7" height="19" fill="#b0e4e5"/>
<rect x="563.3" y="1027" width="12.7" height="3.2" fill="#b0e4e5"/>
<rect x="582" y="1030.2" width="12.7" height="5.6" fill="#00a5a8"/>
<rect x="600.8" y="1030.2" width="12.7" height="14.7" fill="#00a5a8"/>
<rect x="619.5" y="1030.2" width="12.7" height="19.1" fill="#00a5a8"/>
<rect x="638.3" y="1030.2" width="12.7" height="16.7" fill="#b0e4e5"/>
<rect x="657" y="1030.2" width="12.7" height="20.7" fill="#00a5a8"/>
<rect x="675.8" y="1030.2" width="12.7" height="14.7" fill="#b0e4e5"/>
<rect x="694.5" y="1030.2" width="12.7" height="3.2" fill="#b0e4e5"/>
<rect x="713.3" y="1028" width="12.7" height="2.2" fill="#00a5a8"/>
<rect x="732" y="1030.2" width="12.7" height="1.6" fill="#00a5a8"/>
<rect x="750.7" y="1030.2" width="12.7" height="12.3" fill="#00a5a8"/>
<rect x="769.5" y="1030.2" width="12.7" height="27.1" fill="#00a5a8"/>
<rect x="788.2" y="1030.2" width="12.7" height="29.5" fill="#00a5a8"/>
<rect x="807" y="1030.2" width="12.7" height="27.8" fill="#b0e4e5"/>
<rect x="825.7" y="1030.2" width="12.7" height="24.1" fill="#b0e4e5"/>
<rect x="844.5" y="1030.2" width="12.7" height="23.4" fill="#b0e4e5"/>
<rect x="863.2" y="1030.2" width="12.7" height="19.1" fill="#b0e4e5"/>
<rect x="882" y="1030.2" width="12.7" height="7.6" fill="#b0e4e5"/>
<rect x="900.7" y="1030.2" width="12.7" height="9.3" fill="#00a5a8"/>
<rect x="919.5" y="1030.2" width="12.7" height="19.4" fill="#00a5a8"/>
<rect x="938.2" y="1030.2" width="12.7" height="28.5" fill="#00a5a8"/>
<rect x="956.9" y="1030.2" width="12.7" height="30.5" fill="#00a5a8"/>
<rect x="975.7" y="1030.2" width="12.7" height="29.5" fill="#b0e4e5"/>
<rect x="994.4" y="1030.2" width="12.7" height="18.4" fill="#b0e4e5"/>
<rect x="1013.2" y="1030.2" width="12.7" height="4.2" fill="#b0e4e5"/>
<rect x="1031.9" y="1024.7" width="12.7" height="5.5" fill="#00a5a8"/>
<rect x="1050.7" y="1019.6" width="12.7" height="10.6" fill="#00a5a8"/>
<rect x="1069.4" y="1008.5" width="12.7" height="21.7" fill="#00a5a8"/>
<rect x="1088.2" y="1012.9" width="12.7" height="17.3" fill="#b0e4e5"/>
<rect x="1106.9" y="1022.7" width="12.7" height="7.5" fill="#b0e4e5"/>
<rect x="1125.7" y="1018.3" width="12.7" height="11.9" fill="#00a5a8"/>
<rect x="1144.4" y="1011.6" width="12.7" height="18.6" fill="#00a5a8"/>
<rect x="1163.2" y="1005.8" width="12.7" height="24.4" fill="#00a5a8"/>
<rect x="1181.9" y="1001.1" width="12.7" height="29.1" fill="#00a5a8"/>
<rect x="1200.6" y="995.8" width="12.7" height="34.4" fill="#00a5a8"/>
<rect x="1219.4" y="998.4" width="12.7" height="31.8" fill="#b0e4e5"/>
<rect x="1238.1" y="1002.8" width="12.7" height="27.4" fill="#b0e4e5"/>
<rect x="1256.9" y="1014.6" width="12.7" height="15.6" fill="#b0e4e5"/>
<rect x="1275.6" y="1026.7" width="12.7" height="3.5" fill="#b0e4e5"/>
<rect x="1294.4" y="1030.2" width="12.7" height="12" fill="#00a5a8"/>
<rect x="1313.1" y="1030.2" width="12.7" height="21.4" fill="#00a5a8"/>
<rect x="1331.9" y="1030.2" width="12.7" height="23.4" fill="#00a5a8"/>
<rect x="1350.6" y="1030.2" width="12.7" height="20.4" fill="#b0e4e5"/>
<rect x="1369.4" y="1030.2" width="12.7" height="15.7" fill="#b0e4e5"/>
<path d="M0 1030.2 H1426.4" stroke="#505050" stroke-width="1.4" stroke-dasharray="5 3.75" fill="none"/>
<polyline points="0,995.1 7.3,992 26,982.3 44.7,974.6 63.5,971.2 82.2,970.5 101,972.9 119.7,977.9 138.5,986.3 157.2,998.4 176,1012.2 194.7,1027.4 213.5,1042.9 232.2,1058 251,1072.5 269.7,1085.6 288.4,1096.7 307.2,1104.8 325.9,1109.8 344.7,1111.8 363.4,1111.5 382.2,1108.1 400.9,1102.4 419.7,1094.3 438.4,1085.6 457.2,1076.5 475.9,1067.4 494.6,1057.3 513.4,1046.6 532.1,1038.1 550.9,1031.4 569.6,1027.7 588.4,1026.7 607.1,1026.7 625.9,1027.7 644.6,1029.4 663.4,1032.4 682.1,1036.1 700.9,1039.5 719.6,1041.9 738.3,1044.9 757.1,1048.2 775.8,1052.3 794.6,1056.7 813.3,1060.7 832.1,1064.7 850.8,1069.1 869.6,1074.5 888.3,1080.2 907.1,1086.3 925.8,1092.7 944.6,1098.4 963.3,1103.4 982,1107.5 1000.8,1111.8 1019.5,1114.9 1038.3,1117.6 1057,1119.2 1075.8,1119.2 1094.5,1118.2 1113.3,1116.5 1132,1112.5 1150.8,1106.8 1169.5,1101.1 1188.3,1095.3 1207,1089 1225.7,1082.6 1244.5,1077.5 1263.2,1072.8 1282,1068.1 1300.7,1065.7 1319.5,1065.4 1338.2,1066.7 1357,1069.1 1375.7,1072.8" fill="none" stroke="#9429ff" stroke-width="1.25" stroke-linejoin="round" />
<polyline points="0,958.4 7.3,955.7 26,955.4 44.7,961.8 63.5,975.6 82.2,987.3 101,1002.8 119.7,1024.4 138.5,1047.9 157.2,1068.1 176,1080.9 194.7,1089.3 213.5,1098.7 232.2,1110.2 251,1117.2 269.7,1119.6 288.4,1122.9 307.2,1122.6 325.9,1117.9 344.7,1103.4 363.4,1087.6 382.2,1071.5 400.9,1056.3 419.7,1046.6 438.4,1042.9 457.2,1038.1 475.9,1033.4 494.6,1026 513.4,1016.3 532.1,1012.2 550.9,1012.6 569.6,1024.7 588.4,1032.4 607.1,1041.5 625.9,1046.9 644.6,1048.6 663.4,1052.3 682.1,1050.9 700.9,1042.9 719.6,1039.8 738.3,1046.9 757.1,1060.7 775.8,1079.2 794.6,1085.9 813.3,1089 832.1,1089.3 850.8,1093 869.6,1094.3 888.3,1088.6 907.1,1095.7 925.8,1111.2 944.6,1125.3 963.3,1133 982,1137.1 1000.8,1130.3 1019.5,1119.6 1038.3,1111.5 1057,1108.5 1075.8,1097.7 1094.5,1100.7 1113.3,1108.8 1132,1101.1 1150.8,1089.3 1169.5,1077.5 1188.3,1066.7 1207,1055 1225.7,1051.3 1244.5,1050.3 1263.2,1057.7 1282,1064.7 1300.7,1077.9 1319.5,1086.6 1338.2,1090.3 1357,1089.6 1375.7,1089" fill="none" stroke="#111" stroke-width="1.35" stroke-linejoin="round" />
<rect x="1427.1" y="0" width="59.6" height="1191" fill="#fff"/>
<rect x="0" y="685.2" width="1486" height="6.6" fill="#fff"/>
<rect x="0" y="912.6" width="1486" height="8" fill="#fff"/>
<rect x="0" y="1155.3" width="1486" height="40" fill="#fff"/>
<g stroke="#d6d6d6" stroke-width="1.3" fill="none">
<path d="M25.8 684 V693"/><path d="M25.8 911 V922"/>
<path d="M213.3 684 V693"/><path d="M213.3 911 V922"/>
<path d="M400.7 684 V693"/><path d="M400.7 911 V922"/>
<path d="M569.4 684 V693"/><path d="M569.4 911 V922"/>
<path d="M738.1 684 V693"/><path d="M738.1 911 V922"/>
<path d="M906.9 684 V693"/><path d="M906.9 911 V922"/>
<path d="M1094.3 684 V693"/><path d="M1094.3 911 V922"/>
<path d="M1281.8 684 V693"/><path d="M1281.8 911 V922"/>
</g>
<rect x="0" y="687.1" width="1425.9" height="2.9" fill="#adadad"/>
<rect x="0" y="914.8" width="1425.9" height="2.9" fill="#adadad"/>
<g stroke="#cccccc" stroke-width="1.4" fill="none">
<path d="M1426.4 0 V684.8"/><path d="M1426.4 692 V912"/><path d="M1426.4 920.5 V1154.6"/>
<path d="M0 1154.9 H1427.1" stroke="#d9d9d9" stroke-width="1.7"/>
<path d="M25.8 1154.6 V1161.2" stroke="#d6d6d6" stroke-width="1.3"/>
<path d="M213.3 1154.6 V1161.2" stroke="#d6d6d6" stroke-width="1.3"/>
<path d="M400.7 1154.6 V1161.2" stroke="#d6d6d6" stroke-width="1.3"/>
<path d="M569.4 1154.6 V1161.2" stroke="#d6d6d6" stroke-width="1.3"/>
<path d="M738.1 1154.6 V1161.2" stroke="#d6d6d6" stroke-width="1.3"/>
<path d="M906.9 1154.6 V1161.2" stroke="#d6d6d6" stroke-width="1.3"/>
<path d="M1094.3 1154.6 V1161.2" stroke="#d6d6d6" stroke-width="1.3"/>
<path d="M1281.8 1154.6 V1161.2" stroke="#d6d6d6" stroke-width="1.3"/>
</g>
<g font-family="'Liberation Sans', sans-serif" text-rendering="geometricPrecision">
<clipPath id="cm"><rect x="1427.4" y="0" width="70" height="684.9"/></clipPath>
<g clip-path="url(#cm)">
<text x="1441.1" y="31.9" font-size="15.3" fill="#626262" textLength="38.8" lengthAdjust="spacingAndGlyphs" >480-0</text>
<text x="1441.1" y="104.7" font-size="15.3" fill="#626262" textLength="38.8" lengthAdjust="spacingAndGlyphs" >470-0</text>
<text x="1441.1" y="177.5" font-size="15.3" fill="#626262" textLength="38.8" lengthAdjust="spacingAndGlyphs" >460-0</text>
<text x="1441.1" y="250.3" font-size="15.3" fill="#626262" textLength="38.8" lengthAdjust="spacingAndGlyphs" >450-0</text>
<text x="1441.1" y="323.1" font-size="15.3" fill="#626262" textLength="38.8" lengthAdjust="spacingAndGlyphs" >440-0</text>
<text x="1441.1" y="395.9" font-size="15.3" fill="#626262" textLength="38.8" lengthAdjust="spacingAndGlyphs" >430-0</text>
<text x="1441.1" y="468.7" font-size="15.3" fill="#626262" textLength="38.8" lengthAdjust="spacingAndGlyphs" >420-0</text>
<text x="1441.1" y="541.5" font-size="15.3" fill="#626262" textLength="38.8" lengthAdjust="spacingAndGlyphs" >410-0</text>
<text x="1441.1" y="614.3" font-size="15.3" fill="#626262" textLength="38.8" lengthAdjust="spacingAndGlyphs" >400-0</text>
<text x="1441.1" y="687.1" font-size="15.3" fill="#626262" textLength="38.8" lengthAdjust="spacingAndGlyphs" >390-0</text>
</g>
<text x="1441.1" y="708.9" font-size="15.3" fill="#626262" textLength="34.3" lengthAdjust="spacingAndGlyphs" >800K</text>
<text x="1441.1" y="759.6" font-size="15.3" fill="#626262" textLength="34.3" lengthAdjust="spacingAndGlyphs" >600K</text>
<text x="1441.1" y="810.4" font-size="15.3" fill="#626262" textLength="34.3" lengthAdjust="spacingAndGlyphs" >400K</text>
<text x="1441.1" y="861.1" font-size="15.3" fill="#626262" textLength="34.3" lengthAdjust="spacingAndGlyphs" >200K</text>
<text x="1441.1" y="911.8" font-size="15.3" fill="#626262" textLength="17" lengthAdjust="spacingAndGlyphs" >0K</text>
<text x="1441.1" y="980.5" font-size="15.3" fill="#626262" textLength="21.5" lengthAdjust="spacingAndGlyphs" >5-0</text>
<text x="1441.1" y="1035.2" font-size="15.3" fill="#626262" textLength="21.5" lengthAdjust="spacingAndGlyphs" >0-0</text>
<text x="1441.1" y="1146.4" font-size="15.3" fill="#626262" textLength="34.2" lengthAdjust="spacingAndGlyphs" >-10-0</text>
<text x="2.5" y="1178" font-size="15.8" fill="#626262" textLength="47" lengthAdjust="spacingAndGlyphs" >Apr 28</text>
<text x="187.8" y="1178" font-size="15.8" fill="#626262" textLength="51.1" lengthAdjust="spacingAndGlyphs" >May 12</text>
<text x="375.5" y="1178" font-size="15.8" fill="#626262" textLength="50.7" lengthAdjust="spacingAndGlyphs" >May 27</text>
<text x="551.1" y="1178" font-size="15.8" fill="#626262" textLength="36.6" lengthAdjust="spacingAndGlyphs" >Jun 9</text>
<text x="715.9" y="1178" font-size="15.8" fill="#626262" textLength="44.5" lengthAdjust="spacingAndGlyphs" >Jun 23</text>
<text x="891.1" y="1178" font-size="15.8" fill="#626262" textLength="31.1" lengthAdjust="spacingAndGlyphs" >Jul 7</text>
<text x="1074.7" y="1178" font-size="15.8" fill="#626262" textLength="38.2" lengthAdjust="spacingAndGlyphs" >Jul 21</text>
<text x="1261.6" y="1178" font-size="15.8" fill="#626262" textLength="41.1" lengthAdjust="spacingAndGlyphs" >Aug 4</text>
<rect x="1425.4" y="280.9" width="58.4" height="26.2" rx="0.8" fill="#2196f3"/>
<text x="1439.1" y="298.2" font-size="15.3" fill="#fff" textLength="39.6" lengthAdjust="spacingAndGlyphs" font-weight="bold" stroke="#fff" stroke-width="0.45">443-3</text>
<rect x="1425.4" y="387.4" width="58.4" height="26.2" rx="0.8" fill="#8e73d1"/>
<text x="1439.1" y="404.7" font-size="15.3" fill="#fff" textLength="39.6" lengthAdjust="spacingAndGlyphs" font-weight="bold" stroke="#fff" stroke-width="0.45">428-6</text>
<rect x="1425.4" y="493.9" width="58.4" height="26.2" rx="0.8" fill="#ef0028"/>
<text x="1439.1" y="511.2" font-size="15.3" fill="#fff" textLength="39.6" lengthAdjust="spacingAndGlyphs" font-weight="bold" stroke="#fff" stroke-width="0.45">414-1</text>
<rect x="1425.4" y="526.6" width="58.4" height="26.2" rx="0.8" fill="#00b050"/>
<text x="1439.1" y="543.9" font-size="15.3" fill="#fff" textLength="39.6" lengthAdjust="spacingAndGlyphs" font-weight="bold" stroke="#fff" stroke-width="0.45">409-5</text>
<rect x="1425.4" y="538.5" width="58.4" height="26.2" rx="0.8" fill="#23b04f"/>
<text x="1439.1" y="555.8" font-size="15.3" fill="#fff" textLength="39.6" lengthAdjust="spacingAndGlyphs" font-weight="bold" stroke="#fff" stroke-width="0.45">408-0</text>
<rect x="1425.4" y="600.8" width="58.4" height="26.2" rx="0.8" fill="#00a3a6"/>
<text x="1439.1" y="618.1" font-size="15.3" fill="#fff" textLength="39.6" lengthAdjust="spacingAndGlyphs" font-weight="bold" stroke="#fff" stroke-width="0.45">399-3</text>
<rect x="1425.4" y="712.4" width="56.1" height="26.2" rx="0.8" fill="#ba42cc"/>
<text x="1439.9" y="729.7" font-size="15.3" fill="#fff" textLength="36" lengthAdjust="spacingAndGlyphs" font-weight="bold" stroke="#fff" stroke-width="0.45">714K</text>
<rect x="1425.4" y="865.6" width="56.1" height="26.2" rx="0.8" fill="#00b050"/>
<text x="1439.9" y="882.9" font-size="15.3" fill="#fff" textLength="36" lengthAdjust="spacingAndGlyphs" font-weight="bold" stroke="#fff" stroke-width="0.45">110K</text>
<rect x="1425.4" y="1033" width="46.2" height="26.2" rx="0.8" fill="#00a5a8"/>
<text x="1439.3" y="1050.3" font-size="15.3" fill="#fff" textLength="27.9" lengthAdjust="spacingAndGlyphs" font-weight="bold" stroke="#fff" stroke-width="0.45">-1-3</text>
<rect x="1425.4" y="1060.1" width="46.2" height="26.2" rx="0.8" fill="#9429ff"/>
<text x="1439.3" y="1077.4" font-size="15.3" fill="#fff" textLength="27.9" lengthAdjust="spacingAndGlyphs" font-weight="bold" stroke="#fff" stroke-width="0.45">-3-7</text>
<rect x="1425.4" y="1075.6" width="46.2" height="26.2" rx="0.8" fill="#000"/>
<text x="1439.3" y="1092.9" font-size="15.3" fill="#fff" textLength="27.9" lengthAdjust="spacingAndGlyphs" font-weight="bold" stroke="#fff" stroke-width="0.45">-5-2</text>
<text x="6" y="20.2" font-size="18" fill="#1c1c1c" textLength="96.2" lengthAdjust="spacingAndGlyphs" >08/11/2025</text>
<text x="108.5" y="20.2" font-size="18" fill="#1c1c1c" textLength="40.3" lengthAdjust="spacingAndGlyphs" >Corn</text>
<text x="153.5" y="20.2" font-size="18" fill="#1c1c1c" textLength="64" lengthAdjust="spacingAndGlyphs" >(ZCZ25)</text>
<text x="222.1" y="20.2" font-size="18" fill="#1c1c1c" textLength="57.8" lengthAdjust="spacingAndGlyphs" >[CBOT]</text>
<text x="286.1" y="20.2" font-size="18" fill="#1c1c1c" textLength="14" lengthAdjust="spacingAndGlyphs" >O</text>
<text x="301.7" y="20.2" font-size="18" fill="#21b04f" textLength="47.5" lengthAdjust="spacingAndGlyphs" >405-0</text>
<text x="355.6" y="20.2" font-size="18" fill="#1c1c1c" textLength="12.1" lengthAdjust="spacingAndGlyphs" >H</text>
<text x="369" y="20.2" font-size="18" fill="#21b04f" textLength="47.6" lengthAdjust="spacingAndGlyphs" >409-2</text>
<text x="423.3" y="20.2" font-size="18" fill="#1c1c1c" textLength="9.3" lengthAdjust="spacingAndGlyphs" >L</text>
<text x="432.9" y="20.2" font-size="18" fill="#21b04f" textLength="47.6" lengthAdjust="spacingAndGlyphs" >403-0</text>
<text x="486.4" y="20.2" font-size="18" fill="#1c1c1c" textLength="11.5" lengthAdjust="spacingAndGlyphs" >C</text>
<text x="499" y="20.2" font-size="18" fill="#21b04f" textLength="47.6" lengthAdjust="spacingAndGlyphs" >408-0</text>
<text x="551.7" y="20.2" font-size="18" fill="#1c1c1c" textLength="13.8" lengthAdjust="spacingAndGlyphs" >Δ</text>
<text x="565.8" y="20.2" font-size="18" fill="#21b04f" textLength="36.7" lengthAdjust="spacingAndGlyphs" >+2-4</text>
<text x="606.7" y="20.2" font-size="18" fill="#21b04f" textLength="72.8" lengthAdjust="spacingAndGlyphs" >(+0.62%)</text>
<text x="685.4" y="20.2" font-size="18" fill="#1c1c1c" textLength="61.9" lengthAdjust="spacingAndGlyphs" >Moving</text>
<text x="752.2" y="20.2" font-size="18" fill="#1c1c1c" textLength="69.5" lengthAdjust="spacingAndGlyphs" >Average</text>
<text x="826.2" y="20.2" font-size="18" fill="#1c1c1c" textLength="31.3" lengthAdjust="spacingAndGlyphs" >(20,</text>
<text x="862.1" y="20.2" font-size="18" fill="#1c1c1c" textLength="50" lengthAdjust="spacingAndGlyphs" >Close,</text>
<text x="916.8" y="20.2" font-size="18" fill="#1c1c1c" textLength="16.3" lengthAdjust="spacingAndGlyphs" >0)</text>
<text x="941.9" y="20.2" font-size="18" fill="#1c1c1c" textLength="31.3" lengthAdjust="spacingAndGlyphs" >(20,</text>
<text x="977.7" y="20.2" font-size="18" fill="#1c1c1c" textLength="50.2" lengthAdjust="spacingAndGlyphs" >Close,</text>
<text x="1032.4" y="20.2" font-size="18" fill="#1c1c1c" textLength="16.5" lengthAdjust="spacingAndGlyphs" >0)</text>
<text x="1054.3" y="20.2" font-size="18" fill="#f0042f" textLength="45.9" lengthAdjust="spacingAndGlyphs" >414-1</text>
<text x="6.2" y="42.9" font-size="18" fill="#1c1c1c" textLength="62.4" lengthAdjust="spacingAndGlyphs" >Moving</text>
<text x="73.5" y="42.9" font-size="18" fill="#1c1c1c" textLength="69.1" lengthAdjust="spacingAndGlyphs" >Average</text>
<text x="147.5" y="42.9" font-size="18" fill="#1c1c1c" textLength="41.4" lengthAdjust="spacingAndGlyphs" >(200,</text>
<text x="193.1" y="42.9" font-size="18" fill="#1c1c1c" textLength="50.1" lengthAdjust="spacingAndGlyphs" >Close,</text>
<text x="247.9" y="42.9" font-size="18" fill="#1c1c1c" textLength="16.8" lengthAdjust="spacingAndGlyphs" >0)</text>
<text x="273.5" y="42.9" font-size="18" fill="#1c1c1c" textLength="41.4" lengthAdjust="spacingAndGlyphs" >(200,</text>
<text x="319.4" y="42.9" font-size="18" fill="#1c1c1c" textLength="50.5" lengthAdjust="spacingAndGlyphs" >Close,</text>
<text x="374.6" y="42.9" font-size="18" fill="#1c1c1c" textLength="16.3" lengthAdjust="spacingAndGlyphs" >0)</text>
<text x="395.6" y="42.9" font-size="18" fill="#2196f3" textLength="48.5" lengthAdjust="spacingAndGlyphs" >443-3</text>
<text x="450.2" y="42.9" font-size="18" fill="#1c1c1c" textLength="62" lengthAdjust="spacingAndGlyphs" >Moving</text>
<text x="517.2" y="42.9" font-size="18" fill="#1c1c1c" textLength="69.3" lengthAdjust="spacingAndGlyphs" >Average</text>
<text x="591.5" y="42.9" font-size="18" fill="#1c1c1c" textLength="99.3" lengthAdjust="spacingAndGlyphs" >Exponential</text>
<text x="695.5" y="42.9" font-size="18" fill="#1c1c1c" textLength="30.3" lengthAdjust="spacingAndGlyphs" >(13,</text>
<text x="730.8" y="42.9" font-size="18" fill="#1c1c1c" textLength="50.5" lengthAdjust="spacingAndGlyphs" >Close,</text>
<text x="785.8" y="42.9" font-size="18" fill="#1c1c1c" textLength="16.5" lengthAdjust="spacingAndGlyphs" >0)</text>
<text x="810.7" y="42.9" font-size="18" fill="#1c1c1c" textLength="30.8" lengthAdjust="spacingAndGlyphs" >(13,</text>
<text x="846.9" y="42.9" font-size="18" fill="#1c1c1c" textLength="49.6" lengthAdjust="spacingAndGlyphs" >Close,</text>
<text x="901.2" y="42.9" font-size="18" fill="#1c1c1c" textLength="16.8" lengthAdjust="spacingAndGlyphs" >0)</text>
<text x="923" y="42.9" font-size="18" fill="#00b050" textLength="48.3" lengthAdjust="spacingAndGlyphs" >409-5</text>
<text x="6.7" y="65.1" font-size="18" fill="#1c1c1c" textLength="74" lengthAdjust="spacingAndGlyphs" >Bollinger</text>
<text x="87.4" y="65.1" font-size="18" fill="#1c1c1c" textLength="52.2" lengthAdjust="spacingAndGlyphs" >Bands</text>
<text x="144.6" y="65.1" font-size="18" fill="#1c1c1c" textLength="31.2" lengthAdjust="spacingAndGlyphs" >(20,</text>
<text x="180" y="65.1" font-size="18" fill="#1c1c1c" textLength="13.4" lengthAdjust="spacingAndGlyphs" >2,</text>
<text x="199.3" y="65.1" font-size="18" fill="#1c1c1c" textLength="14.2" lengthAdjust="spacingAndGlyphs" >0,</text>
<text x="219.6" y="65.1" font-size="18" fill="#1c1c1c" textLength="51.5" lengthAdjust="spacingAndGlyphs" >Close)</text>
<text x="279.9" y="65.1" font-size="18" fill="#1c1c1c" textLength="31.1" lengthAdjust="spacingAndGlyphs" >(20,</text>
<text x="315.2" y="65.1" font-size="18" fill="#1c1c1c" textLength="14.3" lengthAdjust="spacingAndGlyphs" >2,</text>
<text x="335" y="65.1" font-size="18" fill="#1c1c1c" textLength="14.7" lengthAdjust="spacingAndGlyphs" >0,</text>
<text x="355.6" y="65.1" font-size="18" fill="#1c1c1c" textLength="20.2" lengthAdjust="spacingAndGlyphs" >...)</text>
<text x="380.5" y="65.1" font-size="18" fill="#9176d3" textLength="47.8" lengthAdjust="spacingAndGlyphs" >428-6</text>
<text x="434.3" y="65.1" font-size="18" fill="#f0042f" textLength="45.7" lengthAdjust="spacingAndGlyphs" >414-1</text>
<text x="487.2" y="65.1" font-size="18" fill="#00a5a8" textLength="47.9" lengthAdjust="spacingAndGlyphs" >399-3</text>
<text x="6.2" y="712.6" font-size="18" fill="#1c1c1c" textLength="63.3" lengthAdjust="spacingAndGlyphs" >Volume</text>
<text x="74.8" y="712.6" font-size="18" fill="#1c1c1c" textLength="122.4" lengthAdjust="spacingAndGlyphs" >(OpenToClose)</text>
<text x="206.3" y="712.6" font-size="18" fill="#1c1c1c" textLength="123.2" lengthAdjust="spacingAndGlyphs" >(OpenToClose)</text>
<text x="336.3" y="712.6" font-size="18" fill="#00b050" textLength="65.9" lengthAdjust="spacingAndGlyphs" >109,569</text>
<text x="6.7" y="940.5" font-size="18" fill="#1c1c1c" textLength="51.6" lengthAdjust="spacingAndGlyphs" >MACD</text>
<text x="63.3" y="940.5" font-size="18" fill="#1c1c1c" textLength="79.8" lengthAdjust="spacingAndGlyphs" >Oscillator</text>
<text x="148.1" y="940.5" font-size="18" fill="#1c1c1c" textLength="29.9" lengthAdjust="spacingAndGlyphs" >(12,</text>
<text x="182.9" y="940.5" font-size="18" fill="#1c1c1c" textLength="25.3" lengthAdjust="spacingAndGlyphs" >26,</text>
<text x="213.5" y="940.5" font-size="18" fill="#1c1c1c" textLength="16.6" lengthAdjust="spacingAndGlyphs" >9)</text>
<text x="238.3" y="940.5" font-size="18" fill="#1c1c1c" textLength="29.9" lengthAdjust="spacingAndGlyphs" >(12,</text>
<text x="273.2" y="940.5" font-size="18" fill="#1c1c1c" textLength="25.3" lengthAdjust="spacingAndGlyphs" >26,</text>
<text x="303.5" y="940.5" font-size="18" fill="#1c1c1c" textLength="16.8" lengthAdjust="spacingAndGlyphs" >9)</text>
<text x="325.3" y="940.5" font-size="18" fill="#1c1c1c" textLength="32.9" lengthAdjust="spacingAndGlyphs" >-5-2</text>
<text x="364" y="940.5" font-size="18" fill="#9429ff" textLength="32.6" lengthAdjust="spacingAndGlyphs" >-3-7</text>
<text x="401.9" y="940.5" font-size="18" fill="#00a5a8" textLength="33.5" lengthAdjust="spacingAndGlyphs" >-1-3</text>
<text x="3.6" y="676.9" font-size="39.6" fill="#b2b2b2" textLength="154.8" lengthAdjust="spacingAndGlyphs" font-weight="bold" >barchart</text>
</g>
</svg>
</body></html>
